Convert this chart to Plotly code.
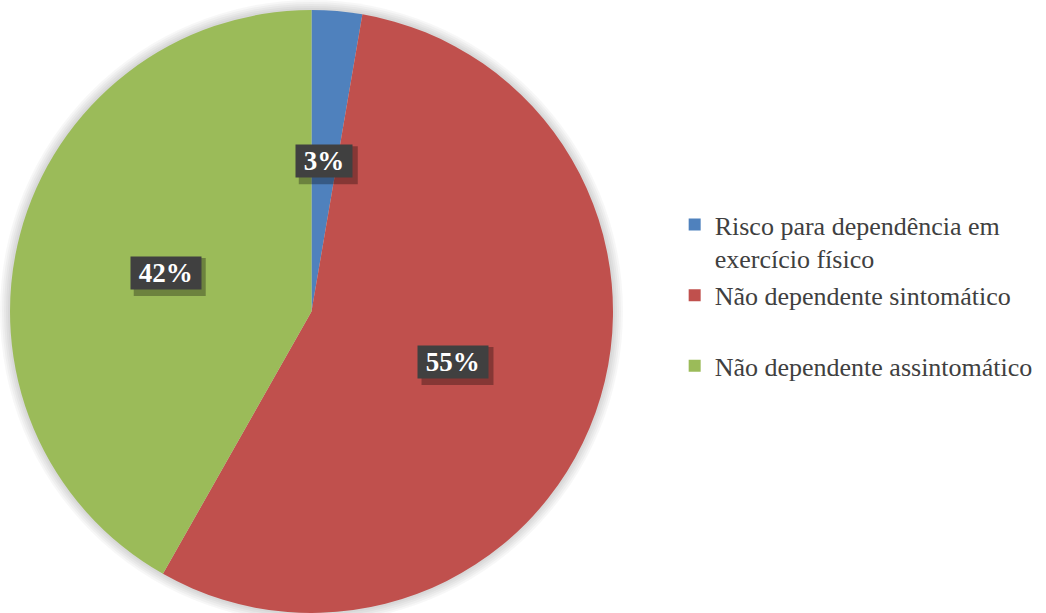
import math
import plotly.graph_objects as go

categories = ["Risco para dependência em<br>exercício físico",
              "Não dependente sintomático<br><span style='color:rgba(0,0,0,0)'>.</span>",
              "Não dependente assintomático"]
values = [2.7, 55.5, 41.8]
value_labels = ["3%", "55%", "42%"]
colors = ["#4F81BD", "#C0504D", "#9BBB59"]

FONT = "Liberation Serif, Times New Roman, serif"
W, H = 1046, 613
MT, MB, ML, MR = 10, 0, 0, 0
pw, ph = W - ML - MR, H - MT - MB
dom_x = [0, 623 / pw]
R = ph / 2  # pixel radius
cx_px = (dom_x[0] + dom_x[1]) / 2 * pw
cy_paper = 0.5

fig = go.Figure()
fig.add_trace(go.Pie(
    labels=categories, values=values, sort=False, direction="clockwise",
    rotation=0, marker=dict(colors=colors, line=dict(width=0)),
    textinfo="none", hoverinfo="label+percent", domain=dict(x=dom_x, y=[0, 1]),
))

# soft shadow behind pie
shapes = []
for extra in [10, 8, 6, 4, 2]:
    r = R + extra
    shapes.append(dict(type="circle", xref="paper", yref="paper", layer="below",
                       x0=(cx_px - r) / pw, x1=(cx_px + r) / pw,
                       y0=cy_paper - r / ph, y1=cy_paper + r / ph,
                       fillcolor="rgba(0,0,0,0.03)", line=dict(width=0)))

# data labels at mid-angle, half radius
annotations = []
total = sum(values)
cum = 0
for v, lab in zip(values, value_labels):
    mid = (cum + v / 2) / total * 2 * math.pi
    cum += v
    x = (cx_px + 0.5 * R * math.sin(mid)) / pw
    y = cy_paper + 0.5 * R * math.cos(mid) / ph
    half_w = (13 * len(lab) + 33) / 2
    # drop shadow of the label box
    shapes.append(dict(type="rect", xref="paper", yref="paper", layer="above",
                       xsizemode="pixel", ysizemode="pixel", xanchor=x, yanchor=y,
                       x0=-half_w + 4, x1=half_w + 4, y0=-19 - 4, y1=19 - 4,
                       fillcolor="rgba(0,0,0,0.3)", line=dict(width=0)))
    annotations.append(dict(x=x, y=y, xref="paper", yref="paper", showarrow=False,
                            xanchor="center", yanchor="middle", borderpad=1,
                            text="&nbsp;<b>" + lab + "</b>&nbsp;",
                            font=dict(family=FONT, size=27, color="white"),
                            bgcolor="#404040"))

fig.update_layout(
    width=W, height=H, margin=dict(t=MT, b=MB, l=ML, r=MR),
    paper_bgcolor="white", plot_bgcolor="white",
    shapes=shapes, annotations=annotations,
    showlegend=True,
    legend=dict(x=0.645, y=0.683, xanchor="left", yanchor="top", valign="top",
                font=dict(family=FONT, size=26, color="#404040"),
                itemsizing="constant", tracegroupgap=0, bgcolor="rgba(0,0,0,0)"),
)
fig.write_html("out.html")
